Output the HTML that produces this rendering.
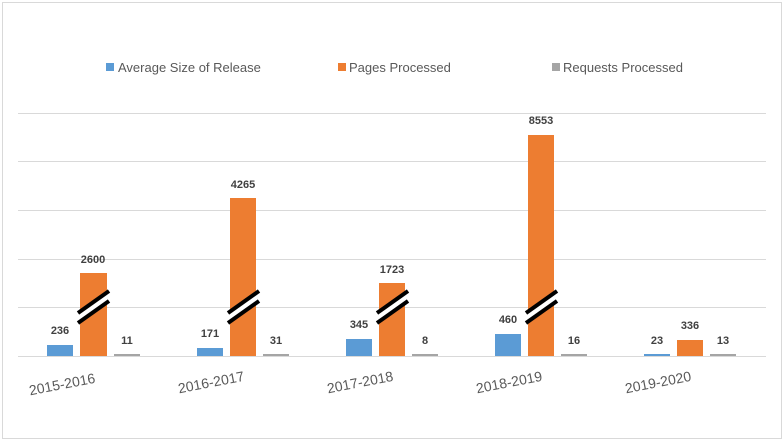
<!DOCTYPE html>
<html><head><style>body{margin:0;background:#fff}svg{display:block}</style></head><body>
<svg width="784" height="443" xmlns="http://www.w3.org/2000/svg" font-family="Liberation Sans, sans-serif">
<rect x="2.5" y="2.5" width="779" height="436" fill="#fff" stroke="#d9d9d9"/>
<g stroke="#d9d9d9" stroke-width="1">
<line x1="18" x2="766" y1="113.5" y2="113.5"/><line x1="18" x2="766" y1="161.5" y2="161.5"/>
<line x1="18" x2="766" y1="210.5" y2="210.5"/><line x1="18" x2="766" y1="259.5" y2="259.5"/>
<line x1="18" x2="766" y1="307.5" y2="307.5"/><line x1="18" x2="766" y1="356.5" y2="356.5"/>
</g>
<g font-size="13" fill="#595959">
<rect x="106" y="63" width="8" height="8" fill="#5b9bd5"/><text x="118" y="72">Average Size of Release</text>
<rect x="338" y="63" width="8" height="8" fill="#ed7d31"/><text x="349" y="72">Pages Processed</text>
<rect x="552" y="63" width="8" height="8" fill="#a5a5a5"/><text x="563" y="72">Requests Processed</text>
</g>
<g>
<rect x="47" y="345" width="26" height="11" fill="#5b9bd5"/><rect x="80" y="273" width="27" height="83" fill="#ed7d31"/><rect x="114" y="354" width="26" height="2" fill="#a5a5a5"/>
<rect x="197" y="348" width="26" height="8" fill="#5b9bd5"/><rect x="230" y="198" width="26" height="158" fill="#ed7d31"/><rect x="263" y="354" width="26" height="2" fill="#a5a5a5"/>
<rect x="346" y="339" width="26" height="17" fill="#5b9bd5"/><rect x="379" y="283" width="26" height="73" fill="#ed7d31"/><rect x="412" y="354" width="26" height="2" fill="#a5a5a5"/>
<rect x="495" y="334" width="26" height="22" fill="#5b9bd5"/><rect x="528" y="135" width="26" height="221" fill="#ed7d31"/><rect x="561" y="354" width="26" height="2" fill="#a5a5a5"/>
<rect x="644" y="354" width="26" height="2" fill="#5b9bd5"/><rect x="677" y="340" width="26" height="16" fill="#ed7d31"/><rect x="710" y="354" width="26" height="2" fill="#a5a5a5"/>
</g>
<g stroke-width="4" stroke-linecap="butt">
<g id="brk"><line x1="78" y1="318" x2="109" y2="296" stroke="#fff" stroke-width="10"/><line x1="78" y1="313" x2="109" y2="291" stroke="#000"/><line x1="78" y1="323" x2="109" y2="301" stroke="#000"/></g>
<use href="#brk" x="150"/><use href="#brk" x="299"/><use href="#brk" x="448"/>
</g>
<g font-size="11" font-weight="bold" fill="#404040" text-anchor="middle">
<text x="60" y="334">236</text><text x="93" y="263">2600</text><text x="127" y="344">11</text>
<text x="210" y="337">171</text><text x="243" y="188">4265</text><text x="276" y="344">31</text>
<text x="359" y="328">345</text><text x="392" y="273">1723</text><text x="425" y="344">8</text>
<text x="508" y="323">460</text><text x="541" y="124">8553</text><text x="574" y="344">16</text>
<text x="657" y="344">23</text><text x="690" y="329">336</text><text x="723" y="344">13</text>
</g>
<g font-size="14" fill="#595959" text-anchor="middle">
<text transform="translate(63,389) rotate(-11)">2015-2016</text>
<text transform="translate(212,387) rotate(-11)">2016-2017</text>
<text transform="translate(361,387) rotate(-11)">2017-2018</text>
<text transform="translate(510,387) rotate(-11)">2018-2019</text>
<text transform="translate(659,387) rotate(-11)">2019-2020</text>
</g>
</svg>
</body></html>
